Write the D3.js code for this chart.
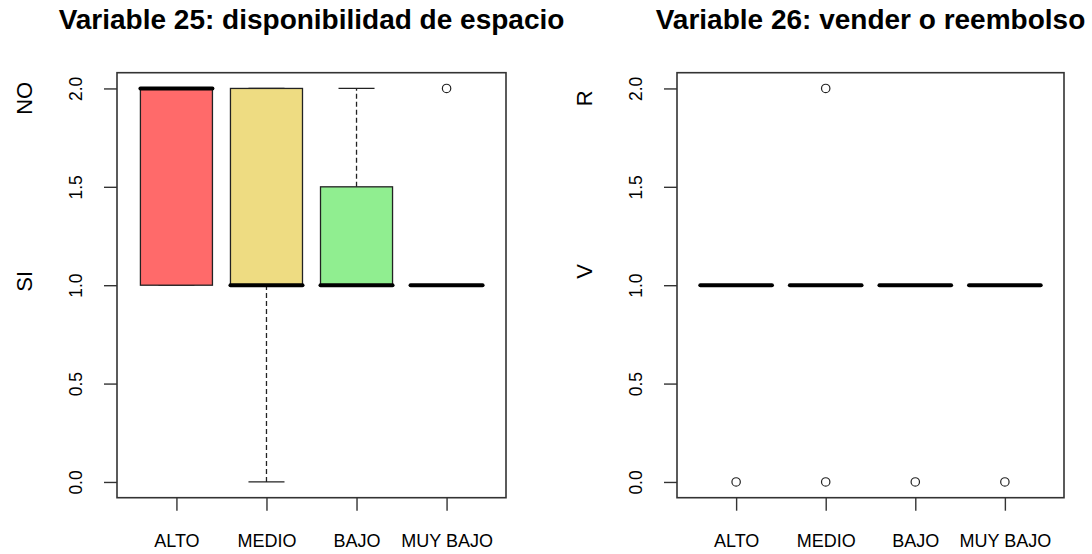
<!DOCTYPE html>
<html>
<head>
<meta charset="utf-8">
<script src="https://cdn.jsdelivr.net/npm/d3@7"></script>
<style>
  html, body { margin: 0; padding: 0; background: #fff; }
  svg { display: block; font-family: "Liberation Sans", Arial, sans-serif; }
</style>
</head>
<body>
<svg id="chart" width="1092" height="554"></svg>
<script>
// Groups shown along the x axis of both panels
const categories = ["ALTO", "MEDIO", "BAJO", "MUY BAJO"];
const yTicks = [0, 0.5, 1, 1.5, 2];
const yTickLabels = ["0.0", "0.5", "1.0", "1.5", "2.0"];

// Variable 25: box statistics per group (lower whisker, Q1, median, Q3, upper whisker)
const v25Low    = [1, 0, 1, 1];
const v25Q1     = [1, 1, 1, 1];
const v25Median = [2, 1, 1, 1];
const v25Q3     = [2, 2, 1.5, 1];
const v25High   = [2, 2, 2, 1];
const v25Out    = [[], [], [], [2]];
const v25Fill   = ["#FF6A6A", "#EEDC82", "#90EE90", "#87CEFA"];
const v25Labels = ["NO", "SI"];
const v25LabelPos = [1.95, 1.02];

// Variable 26: every group collapses on 1, with outliers at 0 (and 2)
const v26Low    = [1, 1, 1, 1];
const v26Q1     = [1, 1, 1, 1];
const v26Median = [1, 1, 1, 1];
const v26Q3     = [1, 1, 1, 1];
const v26High   = [1, 1, 1, 1];
const v26Out    = [[0], [0, 2], [0], [0]];
const v26Fill   = ["#FF6A6A", "#EEDC82", "#90EE90", "#87CEFA"];
const v26Labels = ["R", "V"];
const v26LabelPos = [1.95, 1.07];

const panels = [
  { title: "Variable 25: disponibilidad de espacio", x0: 117, x1: 506,
    low: v25Low, q1: v25Q1, med: v25Median, q3: v25Q3, high: v25High, out: v25Out,
    fill: v25Fill, labels: v25Labels, labelPos: v25LabelPos },
  { title: "Variable 26: vender o reembolso", x0: 677, x1: 1064,
    low: v26Low, q1: v26Q1, med: v26Median, q3: v26Q3, high: v26High, out: v26Out,
    fill: v26Fill, labels: v26Labels, labelPos: v26LabelPos }
];

const svg = d3.select("#chart");
const yTop = 72.7, yBottom = 497.7;
const frameColor = "#333";

panels.forEach(p => {
  const g = svg.append("g");
  const x = d3.scaleLinear().domain([0.34, categories.length + 0.66]).range([p.x0, p.x1]);
  const y = d3.scaleLinear().domain([-0.08, 2.08]).range([yBottom, yTop]);
  const half = 0.4, capHalf = 0.2;

  // title
  g.append("text")
    .attr("x", (p.x0 + p.x1) / 2).attr("y", 29)
    .attr("text-anchor", "middle")
    .attr("font-size", 28).attr("font-weight", "bold")
    .text(p.title);

  // boxes
  categories.forEach((c, i) => {
    const cx = i + 1;
    const bg = g.append("g");
    // whiskers (dashed)
    [[p.low[i], p.q1[i]], [p.q3[i], p.high[i]]].forEach(([a, b]) => {
      if (a !== b) {
        bg.append("line")
          .attr("x1", x(cx)).attr("x2", x(cx))
          .attr("y1", y(a)).attr("y2", y(b))
          .attr("stroke", "#222").attr("stroke-width", 1.3)
          .attr("stroke-dasharray", "5,3");
      }
    });
    // staples
    [p.low[i], p.high[i]].forEach(v => {
      bg.append("line")
        .attr("x1", x(cx - capHalf)).attr("x2", x(cx + capHalf))
        .attr("y1", y(v)).attr("y2", y(v))
        .attr("stroke", "#222").attr("stroke-width", 1.3);
    });
    // box
    if (p.q3[i] > p.q1[i]) {
      bg.append("rect")
        .attr("x", x(cx - half)).attr("width", x(cx + half) - x(cx - half))
        .attr("y", y(p.q3[i])).attr("height", y(p.q1[i]) - y(p.q3[i]))
        .attr("fill", p.fill[i]).attr("stroke", "#222").attr("stroke-width", 1.3);
    }
    // median
    bg.append("line")
      .attr("x1", x(cx - half)).attr("x2", x(cx + half))
      .attr("y1", y(p.med[i])).attr("y2", y(p.med[i]))
      .attr("stroke", "#000").attr("stroke-width", 4)
      .attr("stroke-linecap", "round");
    // outliers
    p.out[i].forEach(v => {
      bg.append("circle")
        .attr("cx", x(cx)).attr("cy", y(v)).attr("r", 4.2)
        .attr("fill", "none").attr("stroke", "#222").attr("stroke-width", 1.2);
    });
  });

  // frame
  g.append("rect")
    .attr("x", p.x0).attr("y", yTop)
    .attr("width", p.x1 - p.x0).attr("height", yBottom - yTop)
    .attr("fill", "none").attr("stroke", frameColor).attr("stroke-width", 1.6);

  // y axis
  const ya = g.append("g").attr("transform", `translate(${p.x0},0)`)
    .call(d3.axisLeft(y).tickValues(yTicks).tickSize(13).tickPadding(0)
      .tickFormat((d, k) => yTickLabels[k]));
  ya.select(".domain").remove();
  ya.selectAll(".tick line").attr("stroke", frameColor).attr("stroke-width", 1.4);
  ya.selectAll(".tick text")
    .attr("x", 0).attr("y", 0).attr("dy", null)
    .attr("transform", "translate(-35,0) rotate(-90)")
    .attr("text-anchor", "middle")
    .attr("font-size", 17.5).attr("fill", "#000")
    .attr("font-family", "Liberation Sans, Arial, sans-serif");

  // x axis
  const xa = g.append("g").attr("transform", `translate(0,${yBottom})`)
    .call(d3.axisBottom(x).tickValues(categories.map((c, i) => i + 1)).tickSize(13)
      .tickPadding(0).tickFormat((d) => categories[d - 1]));
  xa.select(".domain").remove();
  xa.selectAll(".tick line").attr("stroke", frameColor).attr("stroke-width", 1.4);
  xa.selectAll(".tick text")
    .attr("y", 49).attr("dy", null)
    .attr("font-size", 18).attr("fill", "#000")
    .attr("font-family", "Liberation Sans, Arial, sans-serif");

  // category names on the y side
  p.labels.forEach((t, k) => {
    const ly = y(p.labelPos[k]);
    g.append("text")
      .attr("transform", `translate(${p.x0 - 85},${ly}) rotate(-90)`)
      .attr("text-anchor", "middle")
      .attr("font-size", 22)
      .text(t);
  });
});
</script>
</body>
</html>
